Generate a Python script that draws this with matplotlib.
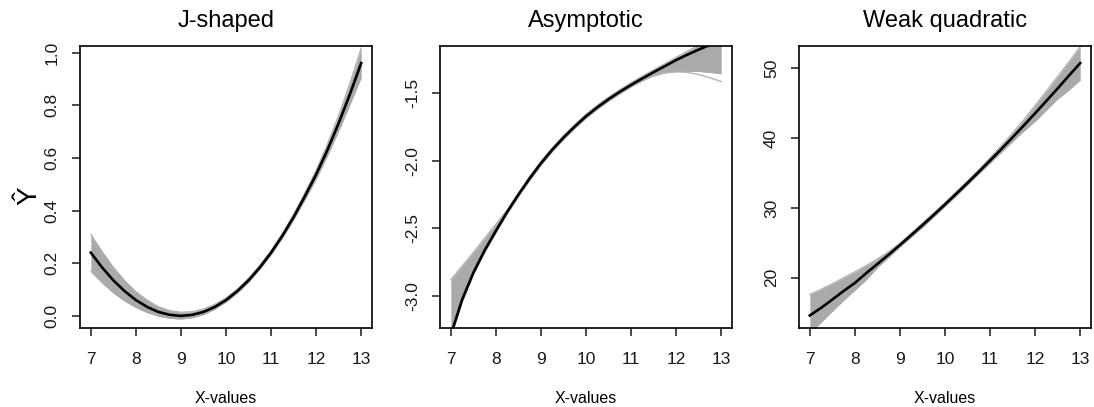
import matplotlib.pyplot as plt

plt.rcParams['font.family'] = ['Liberation Sans', 'DejaVu Sans']

# common grid of x values for every curve
x_vals = [7.0, 7.25, 7.5, 7.75, 8.0, 8.25, 8.5, 8.75, 9.0, 9.25, 9.5, 9.75,
          10.0, 10.25, 10.5, 10.75, 11.0, 11.25, 11.5, 11.75, 12.0, 12.25,
          12.5, 12.75, 13.0]

# J-shaped: fitted curve and the spread of the resampled fits
j_fit = [0.24, 0.184, 0.135, 0.094, 0.06, 0.034, 0.015, 0.004, 0.0, 0.004,
         0.015, 0.034, 0.06, 0.094, 0.135, 0.184, 0.24, 0.304, 0.375, 0.454,
         0.537, 0.63, 0.732, 0.842, 0.96]
j_hi = [0.31, 0.244, 0.185, 0.134, 0.092, 0.060, 0.035, 0.020, 0.014, 0.016,
        0.026, 0.044, 0.069, 0.102, 0.143, 0.192, 0.248, 0.313, 0.386, 0.467,
        0.553, 0.652, 0.762, 0.884, 1.017]
j_lo = [0.17, 0.126, 0.088, 0.057, 0.032, 0.013, -0.001, -0.009, -0.012,
        -0.007, 0.005, 0.025, 0.052, 0.086, 0.127, 0.176, 0.232, 0.295, 0.364,
        0.440, 0.519, 0.607, 0.702, 0.802, 0.905]

# Asymptotic
a_fit = [-3.29, -3.03, -2.83, -2.665, -2.52, -2.38, -2.252, -2.132, -2.02,
         -1.92, -1.83, -1.748, -1.672, -1.606, -1.546, -1.491, -1.44, -1.392,
         -1.346, -1.301, -1.256, -1.216, -1.179, -1.144, -1.11]
a_hi = [-2.88, -2.78, -2.68, -2.575, -2.47, -2.365, -2.24, -2.115, -2.005,
        -1.905, -1.815, -1.733, -1.657, -1.59, -1.53, -1.475, -1.423, -1.375,
        -1.328, -1.282, -1.235, -1.19, -1.145, -1.10, -1.06]
a_lo = [-3.31, -3.05, -2.845, -2.68, -2.535, -2.395, -2.267, -2.147, -2.035,
        -1.935, -1.845, -1.763, -1.687, -1.621, -1.561, -1.506, -1.455, -1.41,
        -1.372, -1.35, -1.34, -1.338, -1.34, -1.347, -1.357]
# one resampled fit that bends away at the right end
a_stray_x = [11.5, 11.75, 12.0, 12.25, 12.5, 12.75, 13.0]
a_stray = [-1.374, -1.352, -1.343, -1.347, -1.363, -1.387, -1.415]

# Weak quadratic
w_fit = [14.6, 15.68, 16.875, 18.10, 19.25, 20.65, 21.965, 23.31, 24.69, 26.10,
         27.535, 29.0, 30.5, 32.03, 33.585, 35.17, 36.79, 38.44, 40.115, 41.82,
         43.56, 45.33, 47.125, 48.95, 50.75]
w_hi = [17.6, 18.35, 19.15, 20.0, 20.85, 21.75, 22.7, 23.75, 24.95, 26.4,
        27.85, 29.3, 30.8, 32.33, 33.9, 35.5, 37.2, 38.95, 40.75, 42.65, 44.7,
        46.75, 48.85, 50.95, 53.1]
w_lo = [12.0, 13.6, 15.2, 16.75, 18.2, 19.7, 21.45, 22.9, 24.4, 25.8, 27.2,
        28.7, 30.2, 31.72, 33.27, 34.85, 36.4, 37.95, 39.5, 41.0, 42.4, 44.0,
        45.6, 46.9, 48.3]

titles = ['J-shaped', 'Asymptotic', 'Weak quadratic']
fits = [j_fit, a_fit, w_fit]
highs = [j_hi, a_hi, w_hi]
lows = [j_lo, a_lo, w_lo]
ylims = [(-0.046, 1.025), (-3.239, -1.152), (12.8, 53.2)]
yticks = [[0.0, 0.2, 0.4, 0.6, 0.8, 1.0], [-3.0, -2.5, -2.0, -1.5], [20, 30, 40, 50]]
ytick_labels = [['0.0', '0.2', '0.4', '0.6', '0.8', '1.0'],
                ['-3.0', '-2.5', '-2.0', '-1.5'],
                ['20', '30', '40', '50']]
xticks = [7, 8, 9, 10, 11, 12, 13]

band = '#aaaaaa'
W, H = 1094, 407
lefts = [80, 440, 799]

fig = plt.figure(figsize=(W / 100, H / 100), dpi=100)

for i in range(3):
    ax = fig.add_axes([lefts[i] / W, 1 - 328 / H, 292 / W, 282 / H])
    ax.fill_between(x_vals, lows[i], highs[i], color=band, lw=0)
    ax.plot(x_vals, highs[i], color=band, lw=0.8)
    ax.plot(x_vals, lows[i], color=band, lw=0.8)
    if i == 1:
        ax.plot(a_stray_x, a_stray, color='#b4b4b4', lw=1.0)
    ax.plot(x_vals, fits[i], color='black', lw=1.9)

    ax.set_xlim(6.76, 13.24)
    ax.set_ylim(*ylims[i])
    ax.set_xticks(xticks)
    ax.set_yticks(yticks[i])
    ax.set_yticklabels(ytick_labels[i], rotation=90, va='center')
    ax.tick_params(direction='out', length=5.5, width=1.1, labelsize=12.5,
                   colors='#1a1a1a')
    ax.tick_params(axis='x', pad=11.5)
    ax.tick_params(axis='y', pad=9)
    for s in ax.spines.values():
        s.set_linewidth(1.2)
    ax.set_title(titles[i], fontsize=17, pad=14)
    ax.set_xlabel('X-values', fontsize=11.5)
    ax.xaxis.set_label_coords(0.5, -0.225)
    if i == 0:
        ax.set_ylabel('Ŷ', fontsize=20)
        ax.yaxis.set_label_coords(-0.13, 0.47)

fig.savefig('out.png', dpi=100)
